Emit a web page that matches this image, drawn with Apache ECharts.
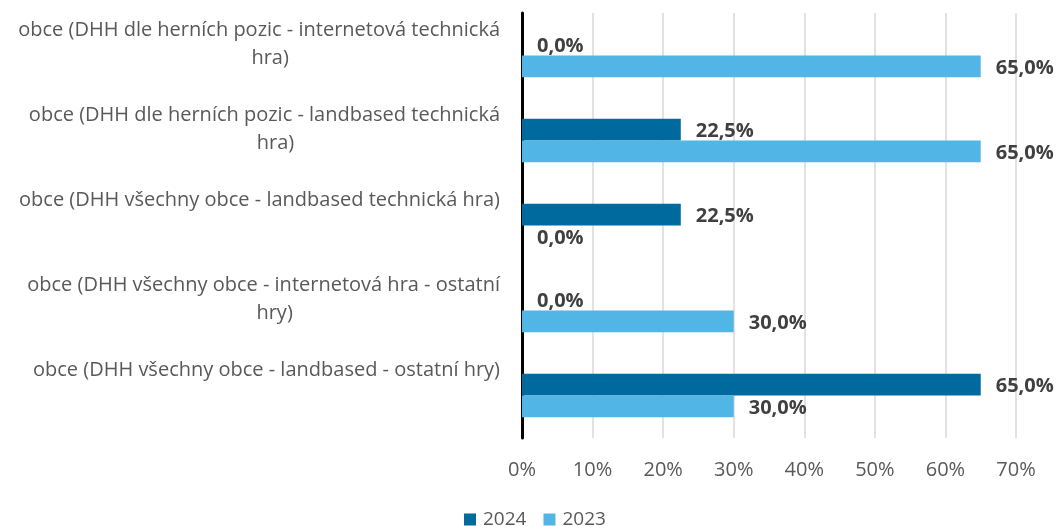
<!DOCTYPE html>
<html>
<head>
<meta charset="utf-8">
<script src="https://cdn.jsdelivr.net/npm/echarts@6/dist/echarts.min.js"></script>
<style>
    html, body { margin: 0; padding: 0; background: #fff; }
    #chart { width: 1058px; height: 526px; }
</style>
</head>
<body>
<div id="chart"></div>
<script>
// kategorie (první řádek, druhý řádek)
const categories = [
    ['obce (DHH dle herních pozic - internetová technická', 'hra)'],
    ['obce (DHH dle herních pozic - landbased technická', 'hra)'],
    ['obce (DHH všechny obce - landbased technická hra)', ''],
    ['obce (DHH všechny obce - internetová hra - ostatní', 'hry)'],
    ['obce (DHH všechny obce - landbased - ostatní hry)', '']
];
// hodnoty v %
const values2024 = [0, 22.5, 22.5, 0, 65];
const values2023 = [65, 65, 0, 30, 30];
const seriesNames = ['2024', '2023'];
const xTicks = [0, 10, 20, 30, 40, 50, 60, 70];

const FONT = '"Open Sans", sans-serif';

const chart = echarts.init(document.getElementById('chart'));

// popisek hodnoty s desetinnou čárkou
const fmtValue = (p) => p.value.toFixed(1).replace('.', ',') + '%';

const labelStyle = {
    show: true,
    position: 'right',
    distance: 15,
    offset: [0, 2],
    formatter: fmtValue,
    fontFamily: FONT,
    fontSize: 20,
    fontWeight: 'bold',
    color: '#404040'
};

chart.setOption({
    animation: false,
    textStyle: { fontFamily: FONT },
    grid: { left: 522, right: 42, top: 13, bottom: 88 },
    legend: {
        data: seriesNames,
        top: 505,
        left: 459,
        itemWidth: 12,
        itemHeight: 12,
        itemGap: 17,
        icon: 'rect',
        textStyle: { fontFamily: FONT, fontSize: 19, color: '#595959', padding: [0, 0, 0, 2] }
    },
    xAxis: {
        type: 'value',
        min: xTicks[0],
        max: xTicks[xTicks.length - 1],
        interval: 10,
        axisLine: { show: false },
        axisTick: { show: false },
        axisLabel: {
            formatter: '{value}%',
            margin: 22,
            fontFamily: FONT,
            fontSize: 20,
            color: '#595959'
        },
        splitLine: { lineStyle: { color: '#d9d9d9', width: 1.5 } }
    },
    yAxis: {
        type: 'category',
        inverse: true,
        data: categories.map(c => c.join('|')),
        axisLine: { show: true, lineStyle: { color: '#000', width: 3 } },
        axisTick: { show: false },
        axisLabel: {
            margin: 22,
            align: 'right',
            verticalAlign: 'middle',
            fontFamily: FONT,
            fontSize: 20,
            lineHeight: 28,
            color: '#595959',
            // text začíná nad středem kategorie: doplníme prázdný řádek
            formatter: (v) => {
                const [a, b] = v.split('|');
                return a + '\n' + (b ? '{c|' + b + '}' : ' ') + '\n{p| }';
            },
            rich: {
                c: {
                    align: 'center',
                    padding: [0, 0, 0, 22],
                    fontFamily: FONT,
                    fontSize: 20,
                    lineHeight: 28,
                    color: '#595959'
                },
                p: {
                    fontSize: 20,
                    lineHeight: 23
                }
            }
        }
    },
    series: [
        {
            name: seriesNames[0],
            type: 'bar',
            data: values2024,
            barGap: '0%',
            barCategoryGap: '49%',
            itemStyle: { color: '#00699d' },
            label: labelStyle
        },
        {
            name: seriesNames[1],
            type: 'bar',
            data: values2023,
            barGap: '0%',
            barCategoryGap: '49%',
            itemStyle: { color: '#51b5e6' },
            label: labelStyle
        }
    ]
});
</script>
</body>
</html>
